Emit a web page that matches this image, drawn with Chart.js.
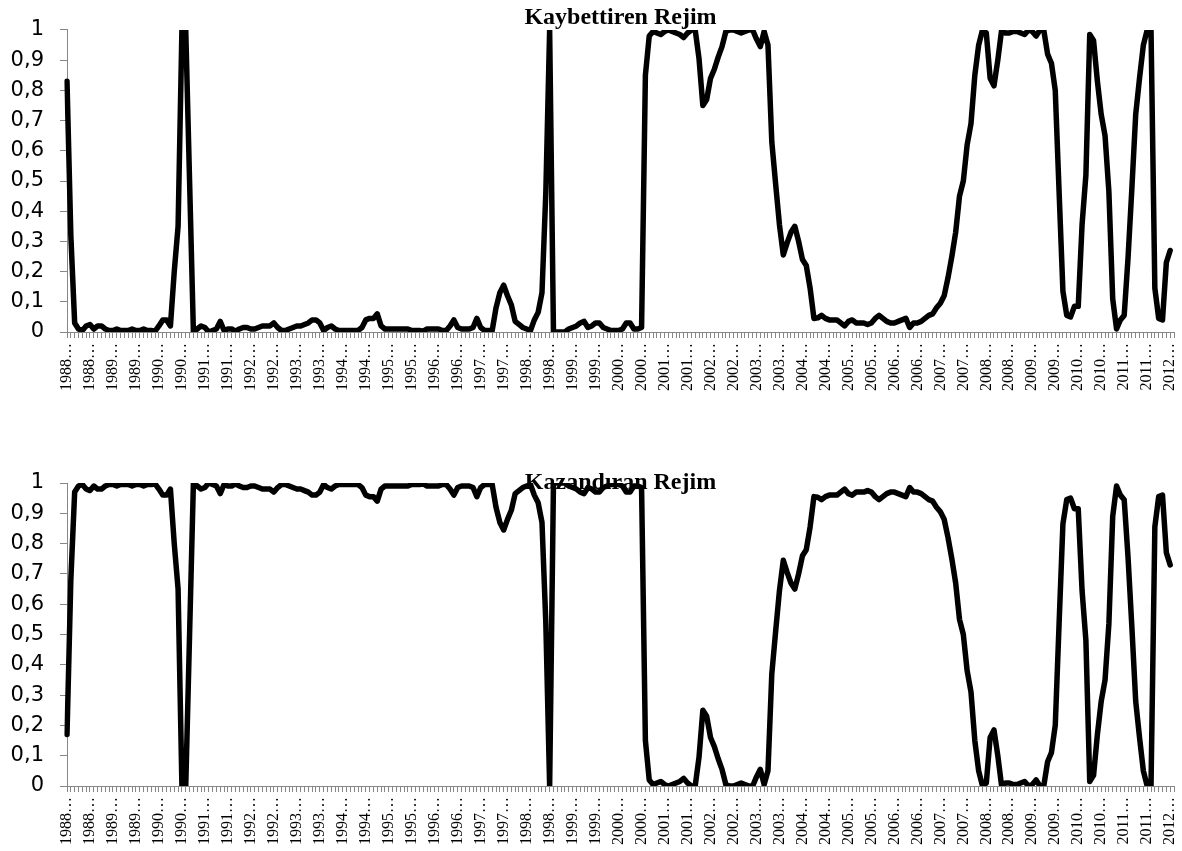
<!DOCTYPE html>
<html>
<head>
<meta charset="utf-8">
<script src="https://cdn.jsdelivr.net/npm/chart.js@4.4.1/dist/chart.umd.min.js"></script>
<style>
  body { margin: 0; background: #fff; }
  .panel { position: absolute; left: 0; }
</style>
</head>
<body>
<div class="panel" style="top:0"><canvas id="lossChart" width="1182" height="425"></canvas></div>
<div class="panel" style="top:425px"><canvas id="winChart" width="1182" height="426"></canvas></div>
<script>
// monthly observations from 1988:01 (last category has no value)
const startYear = 1988;
const monthCount = 290;
const months = [];
for (let i = 0; i < monthCount; i++) {
  const y = startYear + Math.floor(i / 12);
  const m = (i % 12) + 1;
  months.push(y + ':' + (m < 10 ? '0' + m : m));
}

const titles = ['Kaybettiren Rejim', 'Kazandıran Rejim'];
const yTicks = [0, 0.1, 0.2, 0.3, 0.4, 0.5, 0.6, 0.7, 0.8, 0.9, 1];

// regime probabilities
const kaybettiren = [
  0.83, 0.32, 0.03, 0.01, 0.005, 0.02, 0.025, 0.01, 0.02, 0.02,
  0.01, 0.005, 0.005, 0.01, 0.005, 0.005, 0.005, 0.01, 0.005, 0.005,
  0.01, 0.005, 0.005, 0.003, 0.02, 0.04, 0.04, 0.02, 0.2, 0.35,
  1.0, 1.0, 0.5, 0.0, 0.01, 0.02, 0.015, 0.0, 0.005, 0.01,
  0.035, 0.005, 0.01, 0.01, 0.003, 0.01, 0.015, 0.015, 0.01, 0.01,
  0.015, 0.02, 0.02, 0.02, 0.03, 0.015, 0.005, 0.005, 0.01, 0.015,
  0.02, 0.02, 0.025, 0.03, 0.04, 0.04, 0.03, 0.005, 0.015, 0.02,
  0.01, 0.005, 0.005, 0.005, 0.005, 0.005, 0.005, 0.015, 0.04, 0.045,
  0.045, 0.06, 0.02, 0.01, 0.01, 0.01, 0.01, 0.01, 0.01, 0.01,
  0.005, 0.005, 0.005, 0.003, 0.01, 0.01, 0.01, 0.01, 0.005, 0.005,
  0.02, 0.04, 0.015, 0.01, 0.01, 0.01, 0.015, 0.045, 0.015, 0.005,
  0.005, 0.005, 0.08, 0.13, 0.155, 0.12, 0.09, 0.035, 0.025, 0.015,
  0.01, 0.005, 0.04, 0.065, 0.13, 0.46, 1.0, 0.0, 0.0, 0.0,
  0.0, 0.01, 0.015, 0.02, 0.03, 0.035, 0.015, 0.02, 0.03, 0.03,
  0.015, 0.01, 0.005, 0.005, 0.005, 0.01, 0.03, 0.03, 0.01, 0.01,
  0.015, 0.85, 0.98, 0.995, 0.99, 0.985, 0.995, 1.0, 0.995, 0.99,
  0.985, 0.975, 0.99, 1.0, 1.0, 0.905, 0.75, 0.77, 0.84, 0.87,
  0.91, 0.945, 0.995, 1.0, 1.0, 0.995, 0.99, 0.995, 1.0, 1.0,
  0.97, 0.945, 0.995, 0.95, 0.63, 0.49, 0.355, 0.255, 0.295, 0.33,
  0.35, 0.3, 0.24, 0.22, 0.145, 0.045, 0.047, 0.055, 0.045, 0.04,
  0.04, 0.04, 0.03, 0.02, 0.035, 0.04, 0.03, 0.03, 0.03, 0.025,
  0.03, 0.045, 0.055, 0.045, 0.035, 0.03, 0.03, 0.035, 0.04, 0.045,
  0.015, 0.03, 0.03, 0.035, 0.045, 0.055, 0.06, 0.08, 0.095, 0.12,
  0.18, 0.25, 0.33, 0.45, 0.5, 0.62, 0.69, 0.85, 0.95, 1.0,
  0.99, 0.84, 0.815, 0.9, 1.0, 0.99, 0.99, 0.995, 0.995, 0.99,
  0.985, 1.0, 0.995, 0.98, 1.0, 1.0, 0.92, 0.89, 0.8, 0.465,
  0.135, 0.055, 0.05, 0.085, 0.085, 0.355, 0.52, 0.985, 0.965, 0.83,
  0.72, 0.65, 0.465, 0.11, 0.01, 0.04, 0.055, 0.245, 0.475, 0.72,
  0.84, 0.95, 1.0, 1.0, 0.145, 0.045, 0.04, 0.23, 0.27
];

const kazandiran = [
  0.17, 0.68, 0.97, 0.99, 0.995, 0.98, 0.975, 0.99, 0.98, 0.98,
  0.99, 0.995, 0.995, 0.99, 0.995, 0.995, 0.995, 0.99, 0.995, 0.995,
  0.99, 0.995, 0.995, 0.997, 0.98, 0.96, 0.96, 0.98, 0.8, 0.65,
  0.0, 0.0, 0.5, 1.0, 0.99, 0.98, 0.985, 1.0, 0.995, 0.99,
  0.965, 0.995, 0.99, 0.99, 0.997, 0.99, 0.985, 0.985, 0.99, 0.99,
  0.985, 0.98, 0.98, 0.98, 0.97, 0.985, 0.995, 0.995, 0.99, 0.985,
  0.98, 0.98, 0.975, 0.97, 0.96, 0.96, 0.97, 0.995, 0.985, 0.98,
  0.99, 0.995, 0.995, 0.995, 0.995, 0.995, 0.995, 0.985, 0.96, 0.955,
  0.955, 0.94, 0.98, 0.99, 0.99, 0.99, 0.99, 0.99, 0.99, 0.99,
  0.995, 0.995, 0.995, 0.997, 0.99, 0.99, 0.99, 0.99, 0.995, 0.995,
  0.98, 0.96, 0.985, 0.99, 0.99, 0.99, 0.985, 0.955, 0.985, 0.995,
  0.995, 0.995, 0.92, 0.87, 0.845, 0.88, 0.91, 0.965, 0.975, 0.985,
  0.99, 0.995, 0.96, 0.935, 0.87, 0.54, 0.0, 1.0, 1.0, 1.0,
  1.0, 0.99, 0.985, 0.98, 0.97, 0.965, 0.985, 0.98, 0.97, 0.97,
  0.985, 0.99, 0.995, 0.995, 0.995, 0.99, 0.97, 0.97, 0.99, 0.99,
  0.985, 0.15, 0.02, 0.005, 0.01, 0.015, 0.005, 0.0, 0.005, 0.01,
  0.015, 0.025, 0.01, 0.0, 0.0, 0.095, 0.25, 0.23, 0.16, 0.13,
  0.09, 0.055, 0.005, 0.0, 0.0, 0.005, 0.01, 0.005, 0.0, 0.0,
  0.03, 0.055, 0.005, 0.05, 0.37, 0.51, 0.645, 0.745, 0.705, 0.67,
  0.65, 0.7, 0.76, 0.78, 0.855, 0.955, 0.953, 0.945, 0.955, 0.96,
  0.96, 0.96, 0.97, 0.98, 0.965, 0.96, 0.97, 0.97, 0.97, 0.975,
  0.97, 0.955, 0.945, 0.955, 0.965, 0.97, 0.97, 0.965, 0.96, 0.955,
  0.985, 0.97, 0.97, 0.965, 0.955, 0.945, 0.94, 0.92, 0.905, 0.88,
  0.82, 0.75, 0.67, 0.55, 0.5, 0.38, 0.31, 0.15, 0.05, 0.0,
  0.01, 0.16, 0.185, 0.1, 0.0, 0.01, 0.01, 0.005, 0.005, 0.01,
  0.015, 0.0, 0.005, 0.02, 0.0, 0.0, 0.08, 0.11, 0.2, 0.535,
  0.865, 0.945, 0.95, 0.915, 0.915, 0.645, 0.48, 0.015, 0.035, 0.17,
  0.28, 0.35, 0.535, 0.89, 0.99, 0.96, 0.945, 0.755, 0.525, 0.28,
  0.16, 0.05, 0.0, 0.0, 0.855, 0.955, 0.96, 0.77, 0.73
];

const axisGray = '#878787';

function makeChart(canvasId, title, values, titlePad, xHeight) {
  return new Chart(document.getElementById(canvasId), {
    type: 'line',
    data: {
      labels: months,
      datasets: [{
        data: values,
        borderColor: '#000',
        borderWidth: 5.5,
        borderJoinStyle: 'round',
        borderCapStyle: 'round',
        pointRadius: 0,
        tension: 0,
        fill: false
      }]
    },
    options: {
      responsive: false,
      animation: false,
      layout: { padding: { left: 0, right: 8, top: 0, bottom: 0 } },
      plugins: {
        legend: { display: false },
        tooltip: { enabled: false },
        title: {
          display: true,
          text: title,
          fullSize: false,
          color: '#000',
          font: { family: 'Liberation Serif', size: 24, weight: 'bold', lineHeight: 1.2 },
          padding: titlePad
        }
      },
      scales: {
        x: {
          type: 'category',
          offset: false,
          grid: { display: true, drawOnChartArea: false, drawTicks: true, tickLength: 6, color: axisGray },
          border: { display: true, color: axisGray, width: 1 },
          ticks: {
            autoSkip: false,
            minRotation: 90,
            maxRotation: 90,
            padding: 5,
            color: '#000',
            font: { family: 'Liberation Serif', size: 16 },
            callback: (v, i) => (i % 6 === 0 ? months[i].slice(0, 4) + '\u2026' : '')
          },
          afterFit: s => { s.height = xHeight; s.paddingLeft = 0; s.paddingRight = 0; }
        },
        y: {
          min: 0,
          max: 1,
          afterBuildTicks: s => { s.ticks = yTicks.map(v => ({ value: v })); },
          grid: { display: true, drawOnChartArea: false, drawTicks: true, tickLength: 7, color: axisGray },
          border: { display: true, color: axisGray, width: 1 },
          ticks: {
            padding: 16,
            color: '#000',
            font: { family: 'DejaVu Sans', size: 21 },
            callback: v => String(Math.round(v * 10) / 10).replace('.', ',')
          },
          afterFit: s => { s.width = 67; }
        }
      }
    }
  });
}

makeChart('lossChart', titles[0], kaybettiren, { top: 3.6, bottom: -2.4 }, 93);
makeChart('winChart', titles[1], kazandiran, { top: 43.6, bottom: -14.4 }, 65);
</script>
</body>
</html>
